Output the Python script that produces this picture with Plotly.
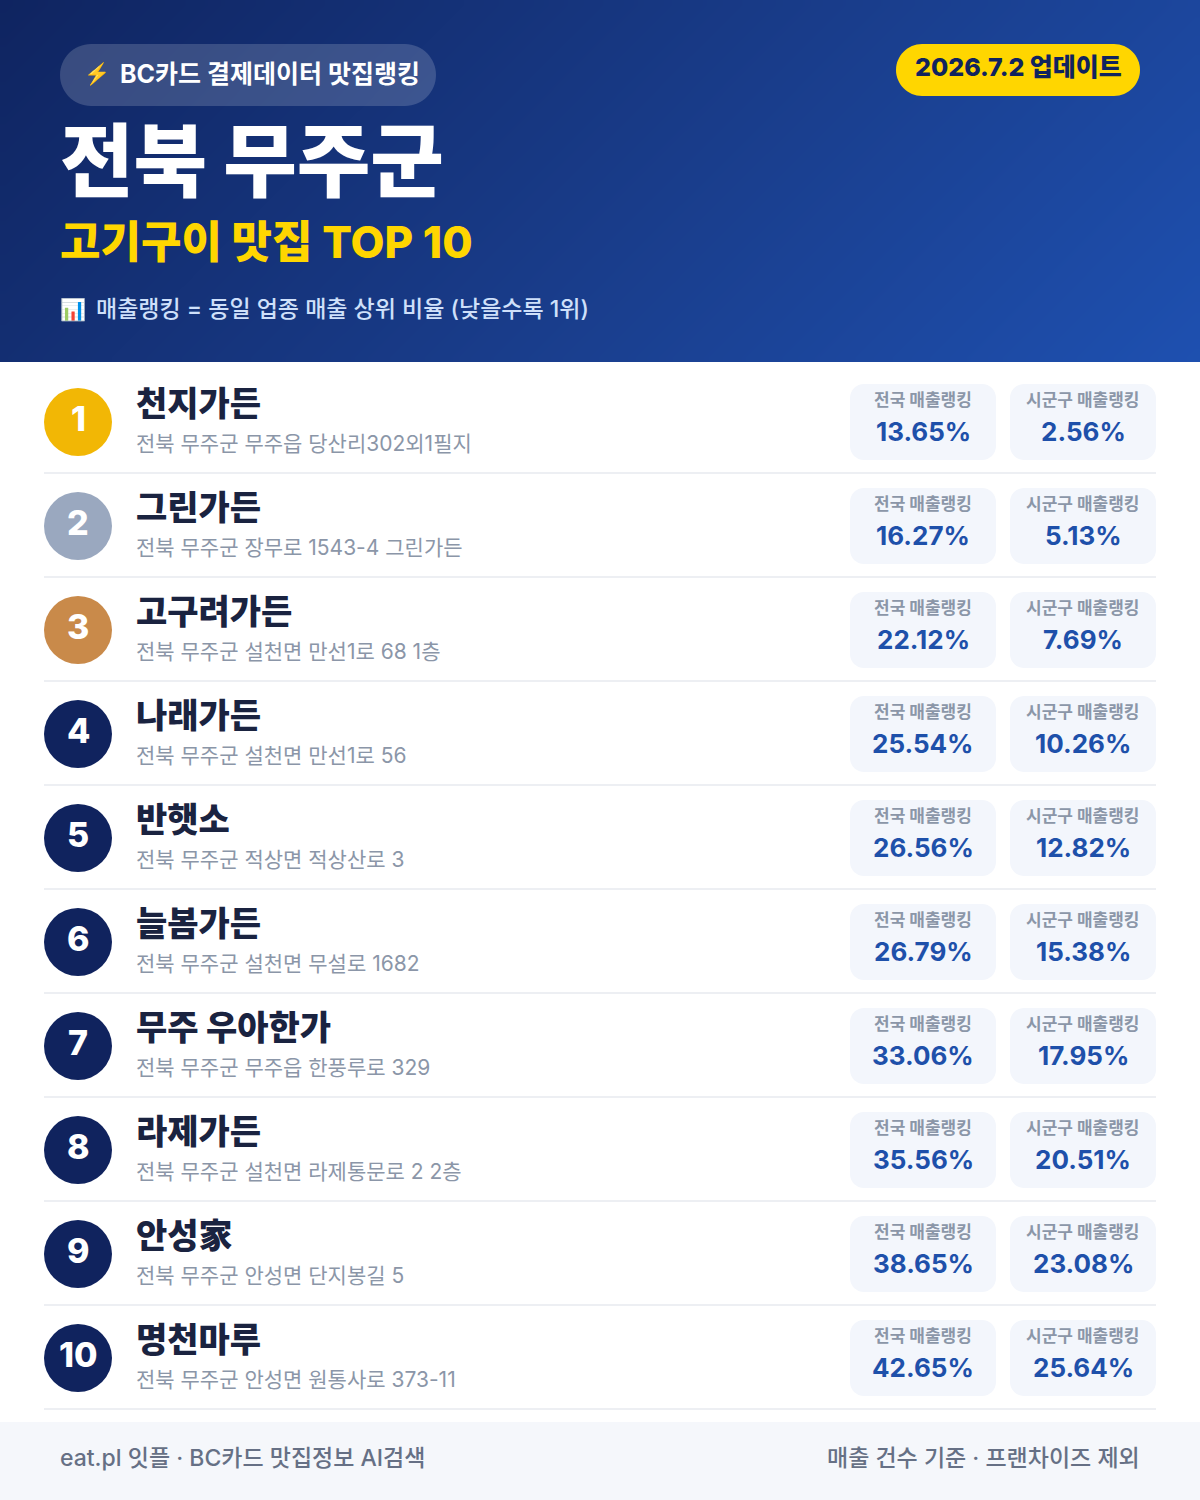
import numpy as np
import plotly.graph_objects as go

# list data
names = ['천지가든', '그린가든', '고구려가든', '나래가든', '반햇소',
         '늘봄가든', '무주 우아한가', '라제가든', '안성家', '명천마루']
addresses = ['전북 무주군 무주읍 당산리302외1필지',
             '전북 무주군 장무로 1543-4 그린가든',
             '전북 무주군 설천면 만선1로 68 1층',
             '전북 무주군 설천면 만선1로 56',
             '전북 무주군 적상면 적상산로 3',
             '전북 무주군 설천면 무설로 1682',
             '전북 무주군 무주읍 한풍루로 329',
             '전북 무주군 설천면 라제통문로 2 2층',
             '전북 무주군 안성면 단지봉길 5',
             '전북 무주군 안성면 원통사로 373-11']
national_rank = [13.65, 16.27, 22.12, 25.54, 26.56, 26.79, 33.06, 35.56, 38.65, 42.65]
local_rank = [2.56, 5.13, 7.69, 10.26, 12.82, 15.38, 17.95, 20.51, 23.08, 25.64]
rank_colors = ['#F2B705', '#9AA8BF', '#C98A4A']

FONT = 'Inter, Noto Sans CJK KR'
NAVY = '#10235E'
BLUE = '#1E50AA'

shapes = []
annotations = []


def text(x, y, s, size, color, weight=400, anchor='left'):
    # annotations carry a couple of px of padding
    dx = {'left': -2, 'center': 0, 'right': 2}[anchor]
    annotations.append(dict(x=x + dx, y=y, text=s, showarrow=False, xanchor=anchor, yanchor='middle',
                            font=dict(family=FONT, size=size, color=color, weight=weight)))


def round_rect(x0, y0, x1, y1, r, color):
    k = r * 0.45
    path = (f'M {x0+r} {y0} H {x1-r} C {x1-k} {y0} {x1} {y0+k} {x1} {y0+r} V {y1-r} '
            f'C {x1} {y1-k} {x1-k} {y1} {x1-r} {y1} H {x0+r} C {x0+k} {y1} {x0} {y1-k} {x0} {y1-r} '
            f'V {y0+r} C {x0} {y0+k} {x0+k} {y0} {x0+r} {y0} Z')
    shapes.append(dict(type='path', path=path, fillcolor=color, line=dict(width=0), layer='above'))


# header gradient, 135deg
hx = np.arange(5, 1200, 10)
hy = np.linspace(5, 357, 36)
hz = (hx[None, :] + hy[:, None]) / 1562
header = go.Heatmap(x=hx, y=hy, z=hz, zmin=0, zmax=1, zsmooth='best', showscale=False, hoverinfo='skip',
                    colorscale=[[0, '#0F2460'], [0.6, '#1A3F8F'], [1, '#1E50B0']])

# header content
round_rect(60, 44, 436, 106, 31, 'rgba(255,255,255,0.17)')
text(84, 74, '⚡', 21, '#FFD600')
text(120, 74, 'BC카드 결제데이터 맛집랭킹', 25, '#FFFFFF', 700)
text(60, 160, '전북 무주군', 80, '#FFFFFF', 900)
text(60, 242, '고기구이 맛집 TOP 10', 44, '#FFD600', 800)
text(60, 309, '📊', 21, '#FFFFFF')
text(96, 309, '매출랭킹 = 동일 업종 매출 상위 비율 (낮을수록 1위)', 23, '#CFE0FA', 500)
round_rect(896, 44, 1140, 96, 26, '#FFD600')
text(1018, 67, '2026.7.2 업데이트', 25, NAVY, 800, 'center')

# rows
for i, name in enumerate(names):
    top = 104 * i
    c = rank_colors[i] if i < len(rank_colors) else NAVY
    shapes.append(dict(type='circle', x0=44, x1=112, y0=388 + top, y1=456 + top,
                       fillcolor=c, line=dict(width=0), layer='above'))
    text(78, 418 + top, str(i + 1), 34, '#FFFFFF', 800, 'center')
    text(136, 403 + top, name, 34, '#1A2340', 800)
    text(136, 443 + top, addresses[i], 21, '#8B96A8', 400)
    round_rect(850, 384 + top, 996, 460 + top, 14, '#F3F6FC')
    round_rect(1010, 384 + top, 1156, 460 + top, 14, '#F3F6FC')
    text(923, 400 + top, '전국 매출랭킹', 17, '#8B96A8', 700, 'center')
    text(1083, 400 + top, '시군구 매출랭킹', 17, '#8B96A8', 700, 'center')
    text(923, 431 + top, f'{national_rank[i]:.2f}%', 26, BLUE, 700, 'center')
    text(1083, 431 + top, f'{local_rank[i]:.2f}%', 26, BLUE, 700, 'center')
    shapes.append(dict(type='line', x0=44, x1=1156, y0=473 + top, y1=473 + top,
                       line=dict(color='#EDEFF3', width=2), layer='above'))

# footer
shapes.append(dict(type='rect', x0=0, x1=1200, y0=1422, y1=1500, fillcolor='#F5F7FB',
                   line=dict(width=0), layer='above'))
text(60, 1458, 'eat.pl 잇플 · BC카드 맛집정보 AI검색', 23, '#667085', 500)
text(1140, 1458, '매출 건수 기준 · 프랜차이즈 제외', 23, '#667085', 500, 'right')

fig = go.Figure(header)
fig.update_layout(width=1200, height=1500, margin=dict(l=0, r=0, t=0, b=0), autosize=False,
                  paper_bgcolor='#FFFFFF', plot_bgcolor='#FFFFFF', showlegend=False,
                  shapes=shapes, annotations=annotations,
                  xaxis=dict(range=[0, 1200], visible=False, fixedrange=True),
                  yaxis=dict(range=[1500, 0], visible=False, fixedrange=True))
fig.write_html('out.html', config=dict(displayModeBar=False),
               post_script="document.body.style.margin='0';")
